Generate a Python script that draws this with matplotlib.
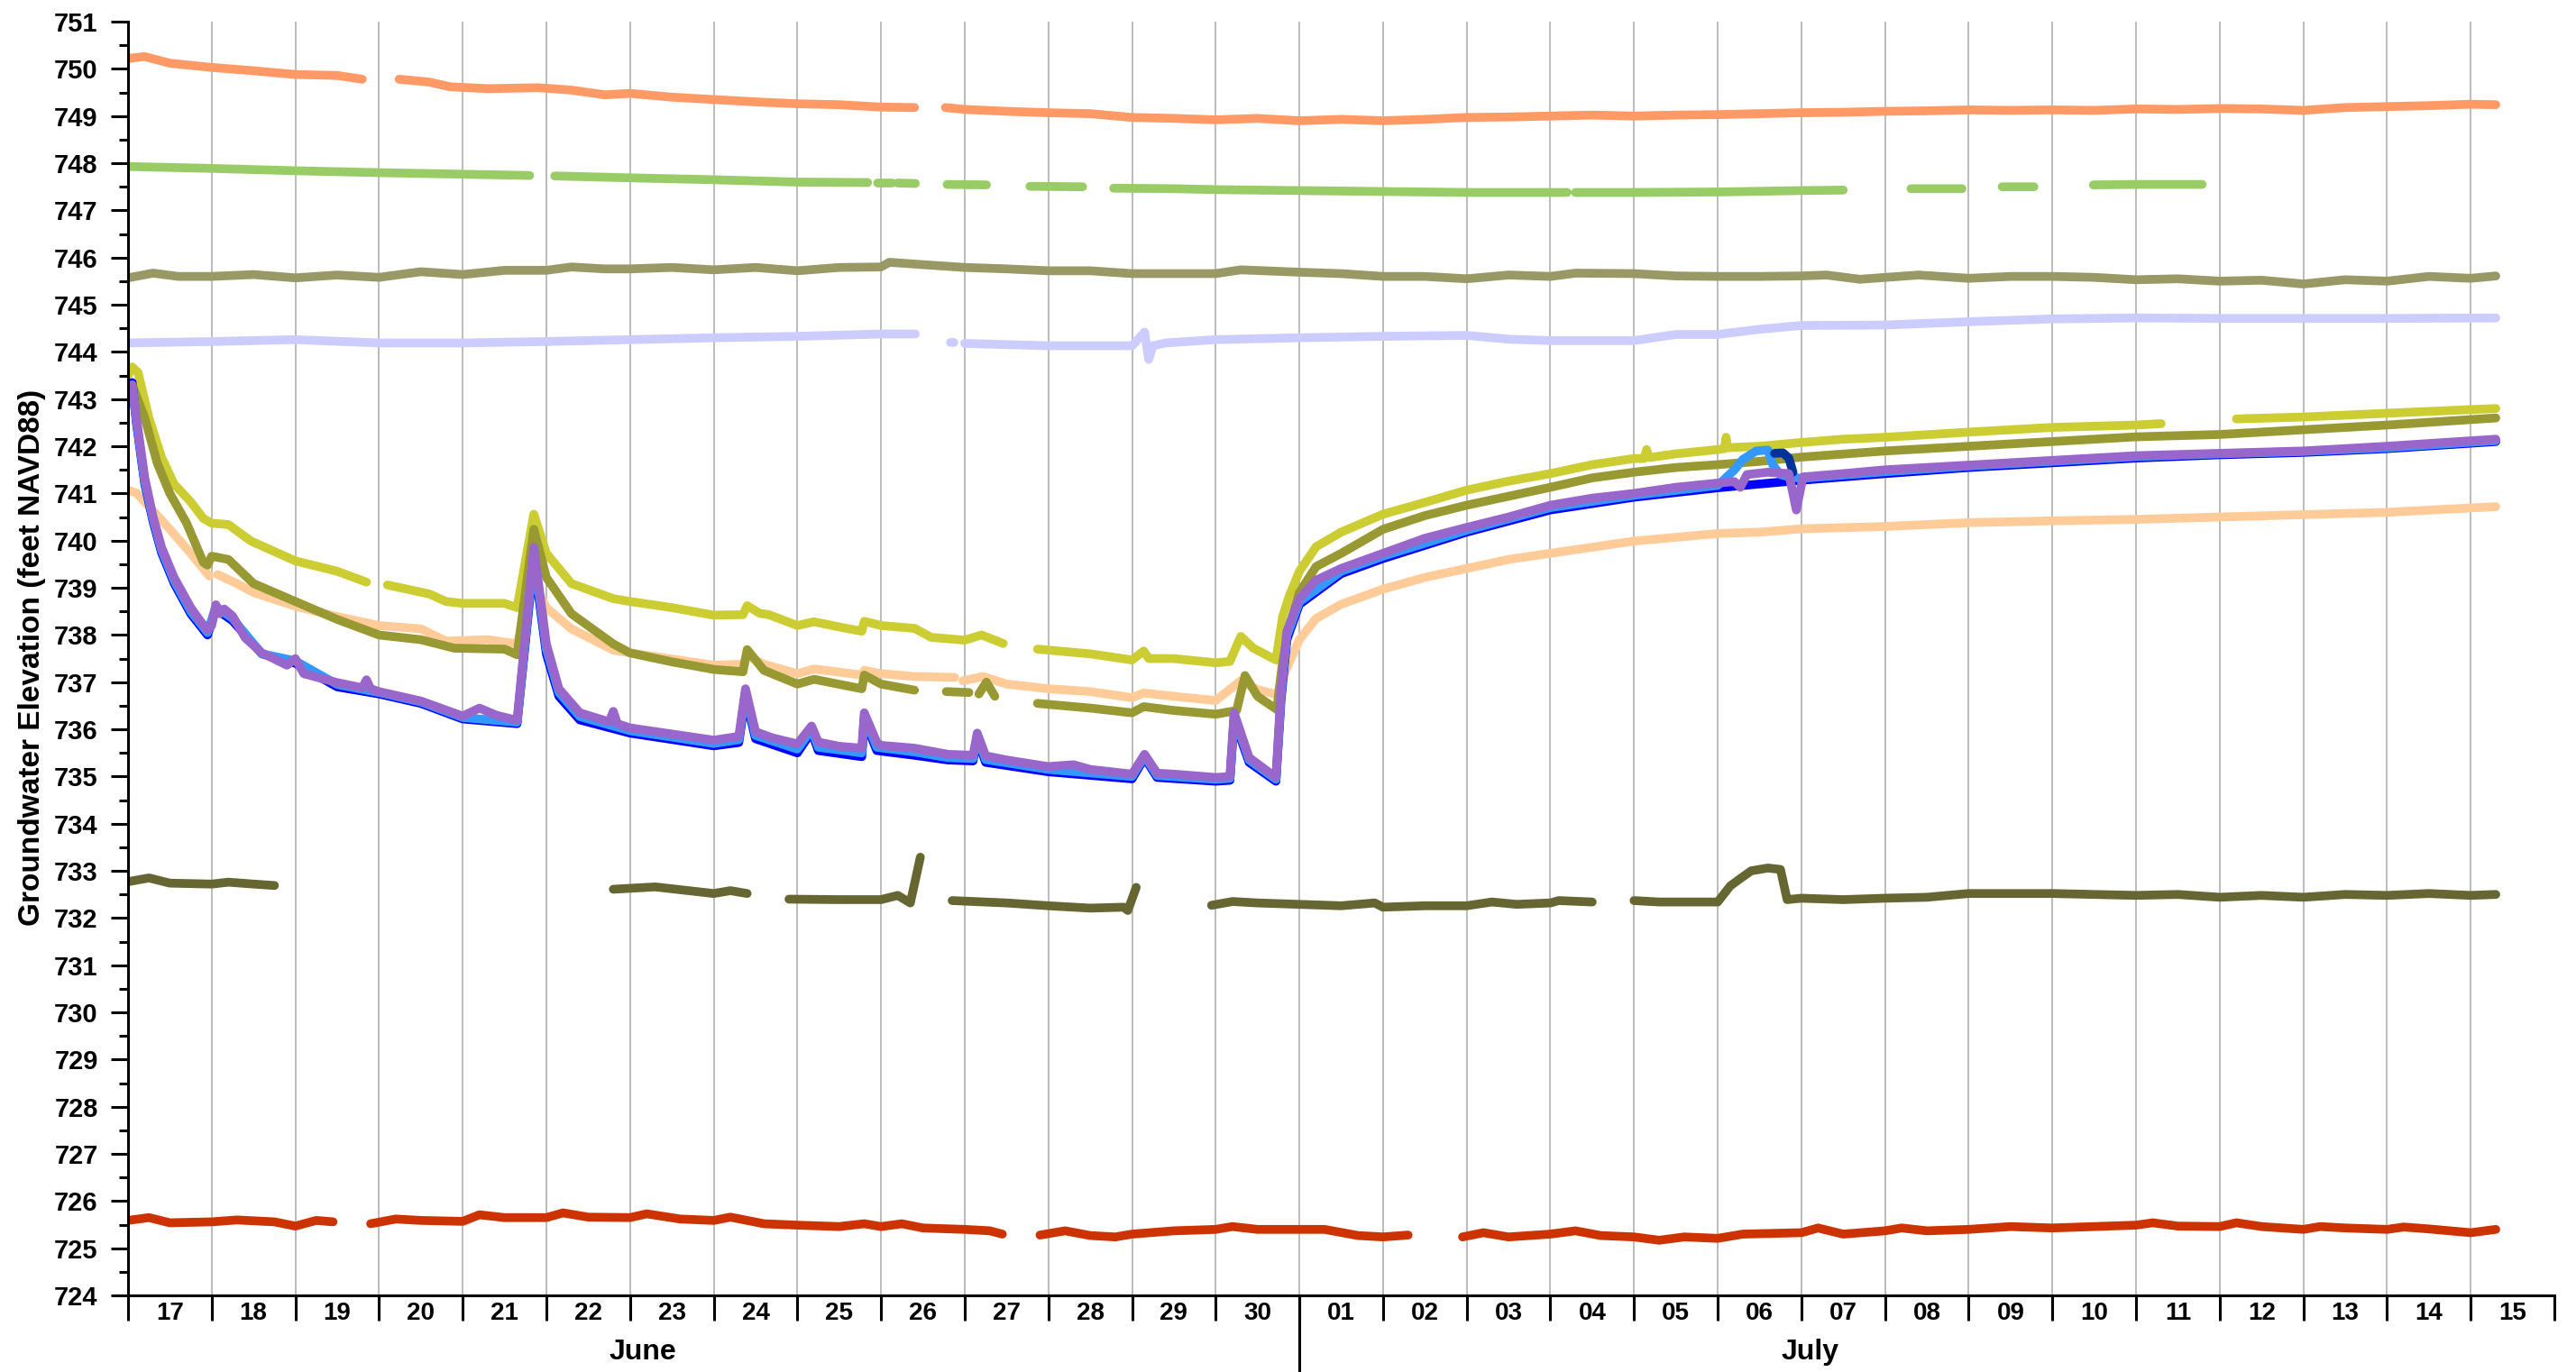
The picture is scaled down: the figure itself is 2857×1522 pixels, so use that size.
import numpy as np
import matplotlib
matplotlib.use('Agg')
import matplotlib.pyplot as plt
import matplotlib.transforms as mtransforms
from matplotlib.ticker import MultipleLocator, FixedLocator, FixedFormatter, NullFormatter

#--------------------------     data (days since June 17, feet NAVD88)    --------------------------#

nan = np.nan

day_labels = ['17', '18', '19', '20', '21', '22', '23', '24', '25', '26', '27', '28', '29', '30',
              '01', '02', '03', '04', '05', '06', '07', '08', '09', '10', '11', '12', '13', '14', '15']
month_names = ['June', 'July']
month_pos = [6.15, 20.1]

t_coral = [0, 0.2, 0.5, 1.0, 1.5, 2.0, 2.5, 2.8, 3.0, 3.24, 3.6, 3.85, 4.3, 4.9, 5.3, 5.7, 6.0, 6.5, 7.0, 7.5,
           8.0, 8.5, 9.0, 9.4, 9.6, 9.77, 10.0, 10.5, 11.0, 11.5, 12.0, 12.5, 13.0, 13.5, 14.0, 14.5, 15.0, 15.5,
           16.0, 16.5, 17.0, 17.5, 18.0, 18.5, 19.0, 19.5, 20.0, 20.5, 21.0, 21.5, 22.0, 22.5, 23.0, 23.5, 24.0,
           24.5, 25.0, 25.5, 26.0, 26.5, 27.0, 27.5, 28.0, 28.3]
v_coral = [750.22, 750.26, 750.12, 750.03, 749.96, 749.88, 749.86, 749.78, nan, 749.78, 749.72, 749.62, 749.58,
           749.60, 749.55, 749.45, 749.48, 749.40, 749.35, 749.30, 749.26, 749.24, 749.19, 749.18, nan, 749.18,
           749.14, 749.10, 749.07, 749.05, 748.97, 748.95, 748.92, 748.95, 748.90, 748.93, 748.90, 748.93, 748.97,
           748.98, 749.00, 749.02, 749.00, 749.02, 749.03, 749.05, 749.07, 749.08, 749.10, 749.11, 749.13, 749.12,
           749.13, 749.12, 749.15, 749.14, 749.16, 749.15, 749.12, 749.18, 749.20, 749.22, 749.25, 749.24]

t_green = [0, 1.0, 2.0, 3.0, 3.9, 4.8, 4.95, 5.1, 6.0, 7.0, 8.0, 8.84, 8.9, 8.96, 9.13, 9.16, 9.2, 9.41, 9.6,
           9.79, 10.26, 10.5, 10.78, 11.41, 11.6, 11.78, 12.5, 13.0, 14.0, 15.0, 16.0, 17.2, 17.25, 17.3, 18.0,
           19.0, 20.0, 20.5, 20.9, 21.31, 21.92, 22.1, 22.4, 22.78, 23.1, 23.49, 24.0, 24.79]
v_green = [747.93, 747.89, 747.84, 747.80, 747.77, 747.74, nan, 747.73, 747.69, 747.65, 747.60, 747.59, nan,
           747.58, 747.58, nan, 747.58, 747.57, nan, 747.55, 747.54, nan, 747.51, 747.50, nan, 747.47, 747.46,
           747.44, 747.42, 747.40, 747.38, 747.38, nan, 747.38, 747.38, 747.39, 747.42, 747.43, nan, 747.46,
           747.46, nan, 747.50, 747.50, nan, 747.54, 747.55, 747.55]

t_khaki = [0, 0.3, 0.6, 1.0, 1.5, 2.0, 2.5, 3.0, 3.5, 4.0, 4.5, 5.0, 5.3, 5.7, 6.0, 6.5, 7.0, 7.5, 8.0, 8.5,
           9.0, 9.1, 9.5, 10.0, 10.5, 11.0, 11.5, 12.0, 12.5, 13.0, 13.3, 14.0, 14.5, 15.0, 15.5, 16.0, 16.5,
           17.0, 17.3, 18.0, 18.5, 19.0, 19.5, 20.0, 20.3, 20.7, 21.4, 22.0, 22.5, 23.0, 23.5, 24.0, 24.5, 25.0,
           25.5, 26.0, 26.5, 27.0, 27.5, 28.0, 28.3]
v_khaki = [745.57, 745.67, 745.60, 745.60, 745.64, 745.57, 745.63, 745.58, 745.70, 745.64, 745.73, 745.73,
           745.80, 745.76, 745.76, 745.79, 745.74, 745.79, 745.72, 745.79, 745.80, 745.90, 745.85, 745.79, 745.76,
           745.72, 745.72, 745.66, 745.66, 745.66, 745.74, 745.69, 745.66, 745.60, 745.60, 745.55, 745.63, 745.60,
           745.67, 745.66, 745.61, 745.60, 745.60, 745.61, 745.63, 745.54, 745.63, 745.56, 745.60, 745.60, 745.58,
           745.53, 745.55, 745.50, 745.52, 745.44, 745.53, 745.50, 745.60, 745.56, 745.61]

t_lav = [0, 1, 2, 3, 4, 5, 6, 7, 8, 9, 9.41, 9.6, 9.83, 9.87, 9.93, 10.0, 11.0, 12.0, 12.15, 12.2, 12.25, 12.4,
         13.0, 14.0, 15.0, 16.0, 16.5, 17.0, 18.0, 18.5, 19.0, 19.5, 20.0, 21.0, 22.0, 23.0, 24.0, 25.0, 26.0,
         27.0, 28.3]
v_lav = [744.19, 744.22, 744.26, 744.19, 744.19, 744.22, 744.26, 744.30, 744.33, 744.38, 744.38, nan, 744.20,
         744.20, nan, 744.18, 744.13, 744.13, 744.42, 743.84, 744.13, 744.19, 744.26, 744.30, 744.33, 744.35,
         744.27, 744.24, 744.24, 744.37, 744.37, 744.48, 744.56, 744.57, 744.64, 744.70, 744.72, 744.71, 744.71,
         744.71, 744.72]

t_yellow = [0, 0.05, 0.12, 0.25, 0.4, 0.55, 0.75, 0.9, 1.0, 1.2, 1.47, 2.0, 2.5, 2.85, 2.98, 3.1, 3.6, 3.8,
            4.0, 4.5, 4.65, 4.85, 5.0, 5.3, 5.8, 6.0, 6.5, 7.0, 7.35, 7.4, 7.55, 7.66, 8.0, 8.2, 8.5, 8.77, 8.8,
            9.0, 9.4, 9.6, 10.0, 10.2, 10.46, 10.65, 10.87, 11.5, 12.0, 12.14, 12.2, 12.5, 13.0, 13.17, 13.3,
            13.45, 13.72, 13.8, 13.88, 14.0, 14.2, 14.5, 15.0, 15.5, 16.0, 16.5, 17.0, 17.5, 18.0, 18.12, 18.15,
            18.18, 18.5, 19.0, 19.08, 19.1, 19.12, 19.5, 20.0, 20.5, 21.0, 22.0, 23.0, 24.0, 24.3, 24.7, 25.2,
            26.0, 27.0, 28.3]
v_yellow = [743.5, 743.68, 743.56, 742.6, 741.77, 741.2, 740.82, 740.47, 740.37, 740.34, 739.99, 739.57, 739.35,
            739.12, nan, 739.06, 738.87, 738.71, 738.67, 738.67, 738.58, 740.56, 739.73, 739.09, 738.77, 738.71,
            738.58, 738.42, 738.43, 738.62, 738.46, 738.43, 738.2, 738.28, 738.17, 738.08, 738.29, 738.2, 738.14,
            737.95, 737.89, 738.0, 737.82, nan, 737.7, 737.6, 737.47, 737.66, 737.5, 737.5, 737.41, 737.44, 737.97,
            737.72, 737.47, 738.39, 738.83, 739.35, 739.87, 740.18, 740.56, 740.81, 741.07, 741.26, 741.42, 741.61,
            741.74, 741.74, 741.93, 741.76, 741.84, 741.93, 741.95, 742.19, 741.97, 742.0, 742.08, 742.15, 742.19,
            742.3, 742.4, 742.45, 742.48, nan, 742.58, 742.62, 742.7, 742.8]

t_olive = [0, 0.05, 0.2, 0.35, 0.5, 0.7, 0.9, 0.95, 1.0, 1.2, 1.5, 2.0, 2.5, 3.0, 3.5, 3.9, 4.5, 4.65, 4.85,
           5.0, 5.3, 5.8, 6.0, 6.5, 7.0, 7.35, 7.4, 7.6, 8.0, 8.2, 8.77, 8.8, 9.0, 9.4, 9.6, 9.78, 10.05, 10.1,
           10.17, 10.26, 10.36, 10.6, 10.87, 11.5, 12.0, 12.14, 12.5, 13.0, 13.25, 13.35, 13.5, 13.73, 13.8,
           13.9, 14.0, 14.2, 14.5, 15.0, 15.5, 16.0, 16.5, 17.0, 17.5, 18.0, 18.5, 19.0, 19.5, 20.0, 21.0, 22.0,
           23.0, 24.0, 25.0, 26.0, 27.0, 28.3]
v_olive = [743.35, 743.3, 742.6, 741.64, 741.0, 740.37, 739.54, 739.48, 739.67, 739.6, 739.09, 738.71, 738.33,
           738.0, 737.9, 737.72, 737.7, 737.58, 740.24, 739.22, 738.45, 737.81, 737.62, 737.43, 737.27, 737.22,
           737.69, 737.25, 736.96, 737.06, 736.86, 737.15, 736.96, 736.83, nan, 736.8, 736.78, nan, 736.75, 737.0,
           736.7, nan, 736.55, 736.45, 736.35, 736.48, 736.4, 736.32, 736.4, 737.14, 736.7, 736.42, 737.44, 738.3,
           738.9, 739.45, 739.73, 740.24, 740.53, 740.75, 740.94, 741.13, 741.33, 741.45, 741.55, 741.61, 741.68,
           741.77, 741.9, 742.0, 742.1, 742.2, 742.25, 742.35, 742.45, 742.6]

t_peach = [0, 0.1, 0.3, 0.5, 0.75, 0.97, 1.02, 1.07, 1.3, 1.5, 2.0, 2.5, 3.0, 3.5, 3.8, 4.3, 4.65, 4.85, 5.0,
           5.3, 5.8, 6.0, 6.5, 7.0, 7.35, 7.4, 7.6, 8.0, 8.2, 8.77, 8.8, 9.0, 9.4, 9.88, 9.93, 9.98, 10.22, 10.5,
           11.0, 11.5, 12.0, 12.14, 12.5, 13.0, 13.3, 13.5, 13.73, 13.85, 14.0, 14.2, 14.5, 15.0, 15.5, 16.0,
           16.5, 17.0, 17.5, 18.0, 18.5, 19.0, 19.5, 20.0, 21.0, 22.0, 23.0, 24.0, 25.0, 26.0, 27.0, 28.3]
v_peach = [741.07, 741.01, 740.63, 740.24, 739.73, 739.25, nan, 739.28, 739.09, 738.9, 738.61, 738.39, 738.2,
           738.13, 737.87, 737.9, 737.81, 739.09, 738.58, 738.13, 737.68, 737.62, 737.49, 737.36, 737.38, 737.56,
           737.38, 737.18, 737.28, 737.15, 737.25, 737.18, 737.12, 737.1, nan, 737.03, 737.12, 736.96, 736.86,
           736.8, 736.67, 736.77, 736.7, 736.61, 737.03, 736.84, 736.74, 737.3, 737.9, 738.35, 738.65, 738.97,
           739.22, 739.41, 739.6, 739.73, 739.86, 739.99, 740.07, 740.15, 740.18, 740.25, 740.3, 740.38, 740.42,
           740.45, 740.5, 740.55, 740.6, 740.72]

t_blue = [0, 0.05, 0.1, 0.2, 0.3, 0.4, 0.55, 0.75, 0.95, 1.05, 1.25, 1.6, 2.0, 2.5, 3.0, 3.5, 4.0, 4.65, 4.85,
          5.0, 5.15, 5.4, 6.0, 7.0, 7.3, 7.38, 7.5, 8.0, 8.17, 8.25, 8.77, 8.8, 8.95, 9.4, 9.8, 10.1, 10.15,
          10.25, 11.0, 12.0, 12.15, 12.3, 13.0, 13.17, 13.22, 13.4, 13.72, 13.78, 13.85, 14.0, 14.5, 15.0, 16.0,
          17.0, 18.0, 19.0, 20.0, 21.0, 22.0, 23.0, 24.0, 25.0, 26.0, 27.0, 28.3]
v_blue = [743.3, 743.35, 742.5, 741.2, 740.4, 739.75, 739.1, 738.45, 738.0, 738.55, 738.3, 737.6, 737.4, 736.9,
          736.75, 736.55, 736.22, 736.12, 739.6, 737.6, 736.7, 736.2, 735.92, 735.65, 735.72, 736.7, 735.8, 735.5,
          735.95, 735.55, 735.42, 736.2, 735.55, 735.45, 735.35, 735.33, 735.8, 735.3, 735.1, 734.95, 735.4,
          734.98, 734.9, 734.92, 736.2, 735.3, 734.9, 736.6, 737.9, 738.65, 739.3, 739.62, 740.18, 740.65, 740.92,
          741.12, 741.28, 741.42, 741.55, 741.65, 741.75, 741.82, 741.87, 741.95, 742.1]

t_sky = [0, 0.05, 0.1, 0.2, 0.3, 0.4, 0.55, 0.75, 0.95, 1.05, 1.25, 1.6, 2.0, 2.5, 3.0, 3.5, 4.0, 4.65, 4.85,
         5.0, 5.15, 5.4, 6.0, 7.0, 7.3, 7.38, 7.5, 8.0, 8.17, 8.25, 8.77, 8.8, 8.95, 9.4, 9.8, 10.1, 10.15,
         10.25, 11.0, 12.0, 12.15, 12.3, 13.0, 13.17, 13.22, 13.4, 13.72, 13.78, 13.85, 14.0, 14.5, 15.0, 16.0,
         17.0, 18.0, 19.0, 19.2, 19.3, 19.46, 19.6, 19.66, 19.75, 19.85, 20.0, 21.0, 22.0, 23.0, 24.0, 25.0,
         26.0, 27.0, 28.3]
v_sky = [743.25, 743.3, 742.55, 741.25, 740.45, 739.8, 739.15, 738.5, 738.05, 738.6, 738.35, 737.6, 737.45,
         736.95, 736.78, 736.58, 736.25, 736.15, 739.7, 737.7, 736.78, 736.27, 735.97, 735.7, 735.78, 736.78,
         735.87, 735.58, 736.0, 735.62, 735.5, 736.27, 735.62, 735.52, 735.4, 735.38, 735.86, 735.36, 735.15,
         735.0, 735.43, 735.02, 734.94, 734.96, 736.27, 735.35, 734.94, 736.7, 737.98, 738.7, 739.35, 739.67,
         740.22, 740.7, 740.96, 741.17, 741.5, 741.72, 741.9, 741.92, 741.6, 741.4, 741.35, 741.32, 741.46,
         741.58, 741.68, 741.78, 741.84, 741.89, 741.97, 742.12]

t_navy = [19.68, 19.78, 19.85, 19.9]
v_navy = [741.85, 741.86, 741.75, 741.45]

t_purple = [0, 0.05, 0.1, 0.2, 0.3, 0.4, 0.55, 0.75, 0.85, 0.95, 1.0, 1.05, 1.1, 1.15, 1.25, 1.4, 1.6, 1.9,
            2.0, 2.1, 2.5, 2.8, 2.85, 2.9, 3.0, 3.5, 4.0, 4.2, 4.4, 4.65, 4.85, 5.0, 5.15, 5.4, 5.75, 5.8, 5.85,
            6.0, 6.5, 7.0, 7.3, 7.38, 7.5, 7.7, 8.0, 8.17, 8.25, 8.5, 8.77, 8.8, 8.95, 9.0, 9.4, 9.8, 10.1,
            10.15, 10.25, 10.5, 11.0, 11.3, 11.5, 12.0, 12.15, 12.3, 12.5, 13.0, 13.17, 13.22, 13.4, 13.72,
            13.78, 13.85, 14.0, 14.2, 14.5, 15.0, 15.5, 16.0, 16.5, 17.0, 17.5, 18.0, 18.5, 19.0, 19.2, 19.27,
            19.35, 19.6, 19.85, 19.94, 20.02, 20.5, 21.0, 22.0, 23.0, 24.0, 25.0, 26.0, 27.0, 28.3]
v_purple = [743.2, 743.3, 742.6, 741.33, 740.5, 739.86, 739.22, 738.58, 738.33, 738.1, 738.2, 738.64, 738.45,
            738.55, 738.4, 737.94, 737.62, 737.36, 737.5, 737.18, 736.99, 736.88, 737.05, 736.86, 736.8, 736.6,
            736.28, 736.45, 736.3, 736.19, 739.86, 737.81, 736.86, 736.35, 736.16, 736.38, 736.12, 736.03, 735.9,
            735.77, 735.85, 736.86, 735.95, 735.82, 735.69, 736.07, 735.73, 735.64, 735.6, 736.35, 735.72, 735.66,
            735.6, 735.47, 735.45, 735.92, 735.44, 735.35, 735.21, 735.25, 735.15, 735.05, 735.47, 735.07, 735.05,
            734.98, 735.0, 736.35, 735.4, 734.98, 736.8, 738.07, 738.77, 739.16, 739.41, 739.73, 740.05, 740.28,
            740.5, 740.75, 740.9, 741.0, 741.13, 741.22, 741.25, 741.13, 741.4, 741.45, 741.42, 740.65, 741.35,
            741.42, 741.5, 741.6, 741.7, 741.8, 741.85, 741.9, 742.0, 742.15]

t_dkolive = [0, 0.25, 0.5, 1.0, 1.2, 1.5, 1.75, 3.5, 5.8, 6.3, 6.7, 7.0, 7.2, 7.4, 7.65, 7.9, 8.5, 9.0, 9.2,
             9.35, 9.47, 9.65, 9.85, 10.5, 11.0, 11.5, 11.9, 11.95, 12.05, 12.5, 12.95, 13.2, 13.5, 14.0, 14.5,
             14.9, 15.0, 15.5, 16.0, 16.3, 16.6, 17.0, 17.1, 17.5, 17.75, 18.0, 18.3, 18.6, 19.0, 19.15, 19.25,
             19.4, 19.6, 19.75, 19.83, 20.0, 20.5, 21.0, 21.5, 22.0, 22.5, 23.0, 23.5, 24.0, 24.5, 25.0, 25.5,
             26.0, 26.5, 27.0, 27.5, 28.0, 28.3]
v_dkolive = [732.77, 732.85, 732.74, 732.72, 732.76, 732.72, 732.69, nan, 732.61, 732.66, 732.58, 732.52,
             732.58, 732.52, nan, 732.40, 732.39, 732.39, 732.48, 732.32, 733.29, nan, 732.37, 732.32, 732.26,
             732.21, 732.23, 732.16, 732.65, nan, 732.27, 732.35, 732.32, 732.29, 732.26, 732.32, 732.23, 732.26,
             732.26, 732.34, 732.29, 732.32, 732.37, 732.34, nan, 732.37, 732.34, 732.34, 732.34, 732.68, 732.81,
             733.0, 733.06, 733.03, 732.39, 732.42, 732.39, 732.42, 732.44, 732.52, 732.52, 732.52, 732.5, 732.48,
             732.5, 732.44, 732.48, 732.44, 732.5, 732.48, 732.52, 732.48, 732.5]

t_red = [0, 0.25, 0.5, 1.0, 1.3, 1.75, 2.0, 2.25, 2.45, 2.7, 2.9, 3.2, 3.5, 4.0, 4.2, 4.5, 5.0, 5.2, 5.5, 6.0,
         6.2, 6.6, 7.0, 7.2, 7.6, 8.0, 8.5, 8.8, 9.0, 9.25, 9.5, 10.0, 10.3, 10.45, 10.7, 10.9, 11.2, 11.5, 11.8,
         12.0, 12.5, 13.0, 13.2, 13.5, 14.0, 14.3, 14.7, 15.0, 15.3, 15.6, 15.95, 16.2, 16.5, 17.0, 17.3, 17.6,
         18.0, 18.3, 18.6, 19.0, 19.3, 20.0, 20.2, 20.5, 21.0, 21.2, 21.5, 22.0, 22.5, 23.0, 23.5, 24.0, 24.2,
         24.5, 25.0, 25.2, 25.5, 26.0, 26.2, 26.5, 27.0, 27.2, 27.5, 28.0, 28.3]
v_red = [725.59, 725.65, 725.54, 725.56, 725.60, 725.56, 725.47, 725.59, 725.56, nan, 725.52, 725.62, 725.59,
         725.57, 725.71, 725.65, 725.65, 725.75, 725.66, 725.65, 725.73, 725.62, 725.59, 725.66, 725.52, 725.49,
         725.46, 725.52, 725.46, 725.52, 725.43, 725.40, 725.37, 725.30, nan, 725.28, 725.37, 725.27, 725.24,
         725.30, 725.37, 725.40, 725.46, 725.40, 725.40, 725.40, 725.27, 725.24, 725.28, nan, 725.24, 725.33,
         725.24, 725.30, 725.37, 725.27, 725.24, 725.17, 725.24, 725.21, 725.30, 725.33, 725.43, 725.30, 725.37,
         725.43, 725.37, 725.40, 725.46, 725.43, 725.46, 725.49, 725.54, 725.47, 725.46, 725.54, 725.46, 725.40,
         725.46, 725.43, 725.40, 725.45, 725.41, 725.33, 725.40]

series = [
    (t_coral, v_coral, '#FF9966'),
    (t_green, v_green, '#99CC66'),
    (t_khaki, v_khaki, '#999966'),
    (t_lav, v_lav, '#CCCCFF'),
    (t_dkolive, v_dkolive, '#666633'),
    (t_red, v_red, '#CC3300'),
    (t_peach, v_peach, '#FFCC99'),
    (t_yellow, v_yellow, '#CCCC33'),
    (t_olive, v_olive, '#999933'),
    (t_blue, v_blue, '#0000FF'),
    (t_sky, v_sky, '#3399FF'),
    (t_navy, v_navy, '#003399'),
    (t_purple, v_purple, '#9966CC'),
]

#---------------------------     plot     ---------------------------#

plt.rcParams['font.family'] = ['Liberation Sans Narrow', 'Liberation Sans', 'DejaVu Sans']
plt.rcParams['font.weight'] = 'bold'

fig = plt.figure(figsize=(28.57, 15.22), dpi=100)
ax = fig.add_axes([0.0497, 0.0558, 0.9419, 0.9284])

for d in range(1, 29):
    ax.axvline(d, color='#AAAAAA', lw=1.1, zorder=0)

for t, v, c in series:
    ax.plot(t, v, color=c, lw=7, solid_capstyle='round', solid_joinstyle='round')

ax.set_xlim(0, 29)
ax.set_ylim(724, 751)

ax.yaxis.set_major_locator(MultipleLocator(1))
ax.yaxis.set_minor_locator(MultipleLocator(0.5))
ax.tick_params(axis='y', which='major', length=14, width=2.2, labelsize=21, pad=10)
ax.tick_params(axis='y', which='minor', length=7, width=2.2)

ax.xaxis.set_major_locator(FixedLocator(np.arange(0, 30)))
ax.xaxis.set_major_formatter(NullFormatter())
ax.xaxis.set_minor_locator(FixedLocator(np.arange(29) + 0.5))
ax.xaxis.set_minor_formatter(FixedFormatter(day_labels))
ax.tick_params(axis='x', which='major', length=20, width=2.2)
ax.tick_params(axis='x', which='minor', length=0, labelsize=20, pad=5)

for s in ['top', 'right']:
    ax.spines[s].set_visible(False)
for s in ['left', 'bottom']:
    ax.spines[s].set_linewidth(2.2)

trans = mtransforms.blended_transform_factory(ax.transData, ax.transAxes)
ax.plot([14, 14], [0, -0.07], color='black', lw=2.2, transform=trans, clip_on=False)
for name, x in zip(month_names, month_pos):
    ax.text(x, -0.0446, name, transform=trans, ha='center', va='center', fontsize=23)

fig.text(0.0126, 0.521, 'Groundwater Elevation (feet NAVD88)', rotation=90, ha='center', va='center',
         fontsize=24, fontweight='bold', family=['Liberation Sans', 'DejaVu Sans'])

fig.savefig('out.png', dpi=100)
